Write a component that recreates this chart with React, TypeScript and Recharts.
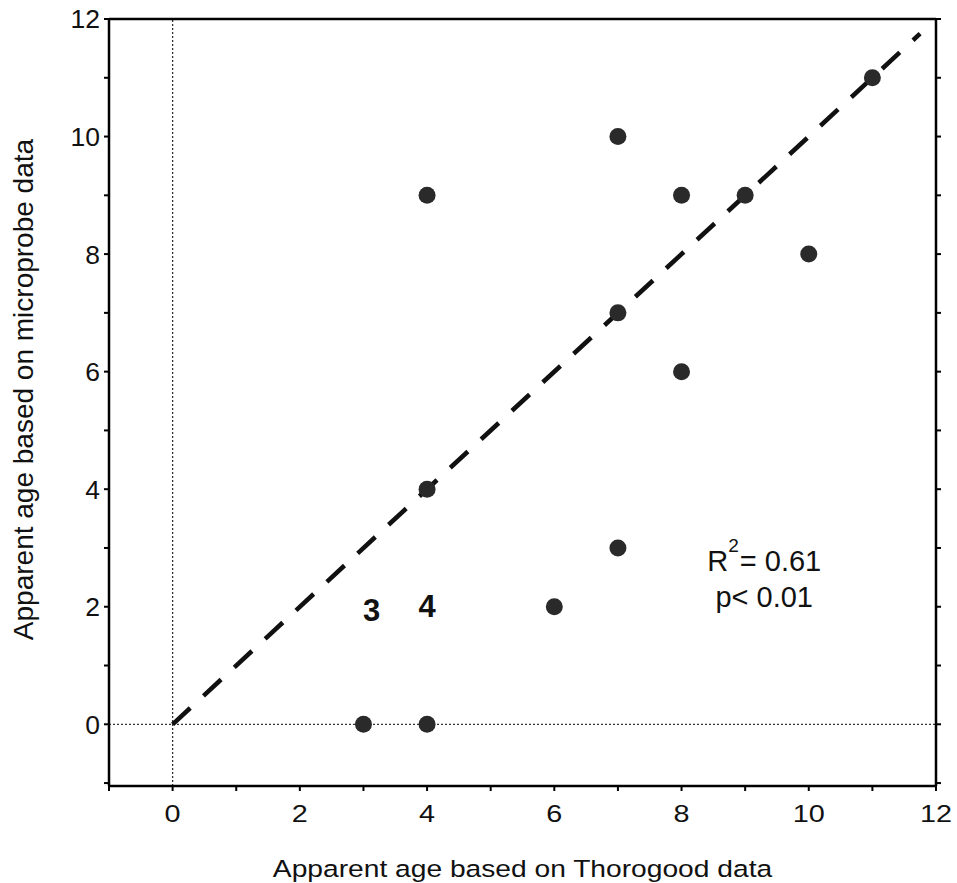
import React from 'react';
import {
  ScatterChart,
  Scatter,
  XAxis,
  YAxis,
  ReferenceLine,
  ReferenceDot,
  Label,
} from 'recharts';

// Data
const thorogoodAge = [3, 4, 4, 4, 6, 7, 7, 7, 8, 8, 9, 10, 11];
const microprobeAge = [0, 0, 4, 9, 2, 3, 7, 10, 6, 9, 9, 8, 11];
const axisTicks = [-1, 0, 1, 2, 3, 4, 5, 6, 7, 8, 9, 10, 11, 12];
const xDomain: [number, number] = [-1, 12];
const yDomain: [number, number] = [-1.05, 12];
const fitLine = [
  { x: 0, y: 0 },
  { x: 11.75, y: 11.75 },
];
const sampleLabels = [
  { x: 3.13, y: 1.94, text: '3' },
  { x: 4.0, y: 2.0, text: '4' },
];
const statsAnchor = { x: 9.3, y: 2.6, r2: '0.61', p: '0.01' };
const xTitle = 'Apparent age based on Thorogood data';
const yTitle = 'Apparent age based on microprobe data';

const points = thorogoodAge.map((x, i) => ({ x, y: microprobeAge[i] }));

const FONT = '"Liberation Sans", Arial, Helvetica, sans-serif';

const evenLabel = (v: number) => (v % 2 === 0 && v >= 0 ? String(v) : '');
const blank = () => '';

const XTick = (props: any) => {
  const { x, y, payload } = props;
  const label = evenLabel(payload.value);
  if (!label) return <g />;
  return (
    <text
      x={x}
      y={y}
      dy="0.71em"
      textAnchor="middle"
      fontSize={24}
      fontFamily={FONT}
      fill="#111"
      transform={`translate(${x},${y}) scale(1.2,1) translate(${-x},${-y})`}
    >
      {label}
    </text>
  );
};

const XTitle = (props: any) => {
  const vb = props.viewBox || {};
  const cx = vb.x + vb.width / 2;
  const y = vb.y + vb.height - 6;
  return (
    <text
      x={cx}
      y={y}
      textAnchor="middle"
      fontSize={23.5}
      fontFamily={FONT}
      fill="#111"
      transform={`translate(${cx},${y}) scale(1.2,1) translate(${-cx},${-y})`}
    >
      {xTitle}
    </text>
  );
};

const YTitle = (props: any) => {
  const vb = props.viewBox || {};
  const x = vb.x + 33;
  const y = vb.y + vb.height / 2 - 13;
  return (
    <text
      x={x}
      y={y}
      textAnchor="middle"
      fontSize={28}
      fontFamily={FONT}
      fill="#111"
      transform={`rotate(-90, ${x}, ${y})`}
    >
      {yTitle}
    </text>
  );
};

const Dot = (props: any) => (
  <circle cx={props.cx} cy={props.cy} r={8.5} fill="#2a2a2a" />
);

export default function App() {
  return (
    <div style={{ position: 'absolute', left: 0, top: 0, background: '#fff' }}>
      <ScatterChart
        width={957}
        height={883}
        margin={{ top: 0, right: 0, bottom: 0, left: 0 }}
      >
        <XAxis
          type="number"
          dataKey="x"
          domain={xDomain}
          ticks={axisTicks}
          allowDataOverflow
          height={97}
          tickSize={5}
          tickMargin={14}
          axisLine={{ stroke: '#000', strokeWidth: 2.5 }}
          tickLine={{ stroke: '#000', strokeWidth: 2 }}
          tick={<XTick />}
          interval={0}
          label={<Label content={XTitle} />}
        />
        <XAxis
          xAxisId="top"
          orientation="top"
          type="number"
          domain={xDomain}
          ticks={axisTicks}
          allowDataOverflow
          tickFormatter={blank}
          height={19}
          tickSize={5}
          axisLine={{ stroke: '#000', strokeWidth: 2.5 }}
          tickLine={{ stroke: '#000', strokeWidth: 2 }}
          interval={0}
        />
        <YAxis
          type="number"
          dataKey="y"
          domain={yDomain}
          ticks={axisTicks}
          allowDataOverflow
          tickFormatter={evenLabel}
          width={109}
          tickSize={5}
          tickMargin={4}
          axisLine={{ stroke: '#000', strokeWidth: 2.5 }}
          tickLine={{ stroke: '#000', strokeWidth: 2 }}
          tick={{ fill: '#111', fontSize: 26.5, fontFamily: FONT }}
          interval={0}
          label={<Label content={YTitle} />}
        />
        <YAxis
          yAxisId="right"
          orientation="right"
          type="number"
          domain={yDomain}
          ticks={axisTicks}
          allowDataOverflow
          tickFormatter={blank}
          width={21}
          tickSize={5}
          axisLine={{ stroke: '#000', strokeWidth: 2.5 }}
          tickLine={{ stroke: '#000', strokeWidth: 2 }}
          interval={0}
        />
        <ReferenceLine
          x={0}
          stroke="#333"
          strokeWidth={1.3}
          strokeDasharray="2 2"
        />
        <ReferenceLine
          y={0}
          stroke="#333"
          strokeWidth={1.3}
          strokeDasharray="2 2"
        />
        <ReferenceLine
          segment={fitLine}
          stroke="#111"
          strokeWidth={4.5}
          strokeDasharray="24 18"
        />
        <Scatter data={points} shape={Dot} isAnimationActive={false} />
        {sampleLabels.map((s) => (
          <ReferenceDot
            key={s.text}
            x={s.x}
            y={s.y}
            r={0}
            shape={(p: any) => (
              <text
                x={p.cx}
                y={p.cy}
                textAnchor="middle"
                dominantBaseline="central"
                fontSize={31}
                fontWeight="bold"
                fontFamily={FONT}
                fill="#111"
              >
                {s.text}
              </text>
            )}
          />
        ))}
        <ReferenceDot
          x={statsAnchor.x}
          y={statsAnchor.y}
          r={0}
          shape={(p: any) => (
            <g fontFamily={FONT} fill="#111">
              <text x={p.cx} y={p.cy} textAnchor="middle" fontSize={29}>
                <tspan>R</tspan>
                <tspan dy={-19} fontSize={19}>
                  2
                </tspan>
                <tspan dy={19} dx={1}>
                  {`= ${statsAnchor.r2}`}
                </tspan>
              </text>
              <text x={p.cx} y={p.cy + 36} textAnchor="middle" fontSize={29}>
                {`p< ${statsAnchor.p}`}
              </text>
            </g>
          )}
        />
      </ScatterChart>
    </div>
  );
}
